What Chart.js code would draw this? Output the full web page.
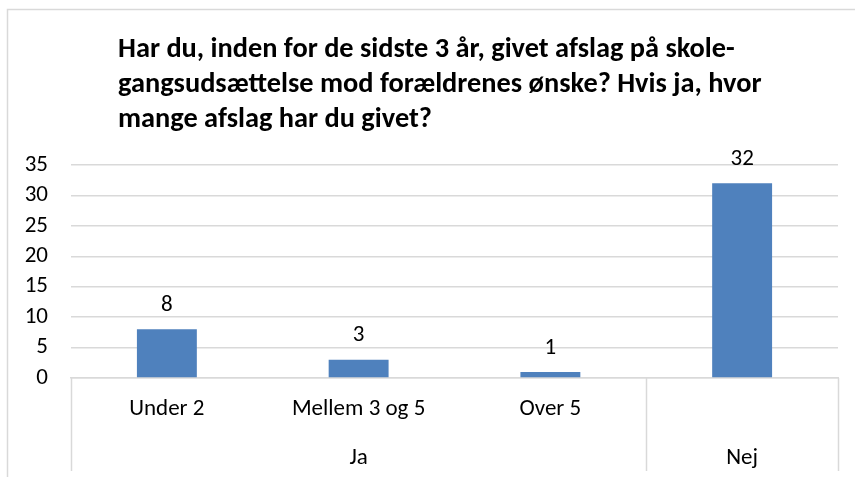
<!DOCTYPE html>
<html>
<head>
<meta charset="utf-8">
<script src="https://cdn.jsdelivr.net/npm/chart.js@4"></script>
<style>
html,body{margin:0;padding:0;background:#fff;}
#wrap{width:855px;height:477px;position:relative;}
</style>
</head>
<body>
<div id="wrap"><canvas id="c" width="855" height="477"></canvas></div>
<script>
const titleLines = [
  "Har du, inden for de sidste 3 år, givet afslag på skole-",
  "gangsudsættelse mod forældrenes ønske? Hvis ja, hvor",
  "mange afslag har du givet?"
];
const categories = ["Under 2", "Mellem 3 og 5", "Over 5", ""];
const groups = [["Ja", 0, 2], ["Nej", 3, 3]];
const values = [8, 3, 1, 32];
const yMin = 0, yMax = 35, yStep = 5;

const FONT = "'Carlito','Open Sans','Liberation Sans',sans-serif";
const BLUE = "#4F81BD";
const GRID = "#D9D9D9";
const FS = 23;

const extras = {
  id: 'extras',
  beforeDraw(chart) {
    const ctx = chart.ctx;
    ctx.save();
    ctx.fillStyle = '#fff';
    ctx.fillRect(0, 0, chart.width, chart.height);
    ctx.strokeStyle = GRID;
    ctx.lineWidth = 1.5;
    ctx.beginPath();
    ctx.moveTo(7.5, chart.height + 5);
    ctx.lineTo(7.5, 9.5);
    ctx.lineTo(chart.width + 5, 9.5);
    ctx.stroke();
    let size = 22;
    ctx.font = `bold ${size}px ${FONT}`;
    const w = ctx.measureText(titleLines[0]).width;
    size = size * 617 / w;
    ctx.font = `bold ${size}px ${FONT}`;
    ctx.fillStyle = '#000';
    ctx.textAlign = 'left';
    ctx.textBaseline = 'middle';
    titleLines.forEach((t, i) => ctx.fillText(t, 118, 50 + i * 35));
    ctx.restore();
  },
  afterDraw(chart) {
    const ctx = chart.ctx;
    const xs = chart.scales.x;
    const area = chart.chartArea;
    const step = (xs.getPixelForValue(1) - xs.getPixelForValue(0));
    ctx.save();
    ctx.strokeStyle = GRID;
    ctx.lineWidth = 1.5;
    const bottom = 471;
    const edges = [area.left];
    groups.forEach(g => edges.push(xs.getPixelForValue(g[2]) + step / 2));
    ctx.beginPath();
    edges.forEach(x => {
      const xx = Math.round(x) + 0.5;
      ctx.moveTo(xx, area.bottom);
      ctx.lineTo(xx, bottom);
    });
    ctx.stroke();
    ctx.fillStyle = '#000';
    ctx.font = `${FS}px ${FONT}`;
    ctx.textAlign = 'center';
    ctx.textBaseline = 'middle';
    groups.forEach(g => {
      const x0 = xs.getPixelForValue(g[1]) - step / 2;
      const x1 = xs.getPixelForValue(g[2]) + step / 2;
      ctx.fillText(g[0], (x0 + x1) / 2, 458);
    });
    const meta = chart.getDatasetMeta(0);
    meta.data.forEach((bar, i) => {
      ctx.fillText(String(values[i]), bar.x, bar.y - 24);
    });
    ctx.restore();
  }
};

new Chart(document.getElementById('c'), {
  type: 'bar',
  data: {
    labels: categories,
    datasets: [{
      data: values,
      backgroundColor: BLUE,
      borderWidth: 0,
      barPercentage: 0.625,
      categoryPercentage: 0.5
    }]
  },
  options: {
    responsive: false,
    animation: false,
    events: [],
    layout: { padding: { left: 0, right: 17, top: 165, bottom: 0 } },
    plugins: { legend: { display: false }, tooltip: { enabled: false }, title: { display: false } },
    scales: {
      x: {
        grid: { display: false, drawTicks: false },
        border: { display: true, color: GRID, width: 1.5 },
        ticks: { color: '#000', font: { size: FS, family: FONT }, padding: 17, maxRotation: 0, autoSkip: false },
        afterFit(s) { s.height = 99; }
      },
      y: {
        min: yMin, max: yMax,
        grid: { color: GRID, lineWidth: 1.5, drawTicks: false },
        border: { display: false },
        ticks: { stepSize: yStep, autoSkip: false, color: '#000', font: { size: FS, family: FONT }, padding: 23 },
        afterFit(s) { s.width = 71; }
      }
    }
  },
  plugins: [extras]
});
</script>
</body>
</html>
